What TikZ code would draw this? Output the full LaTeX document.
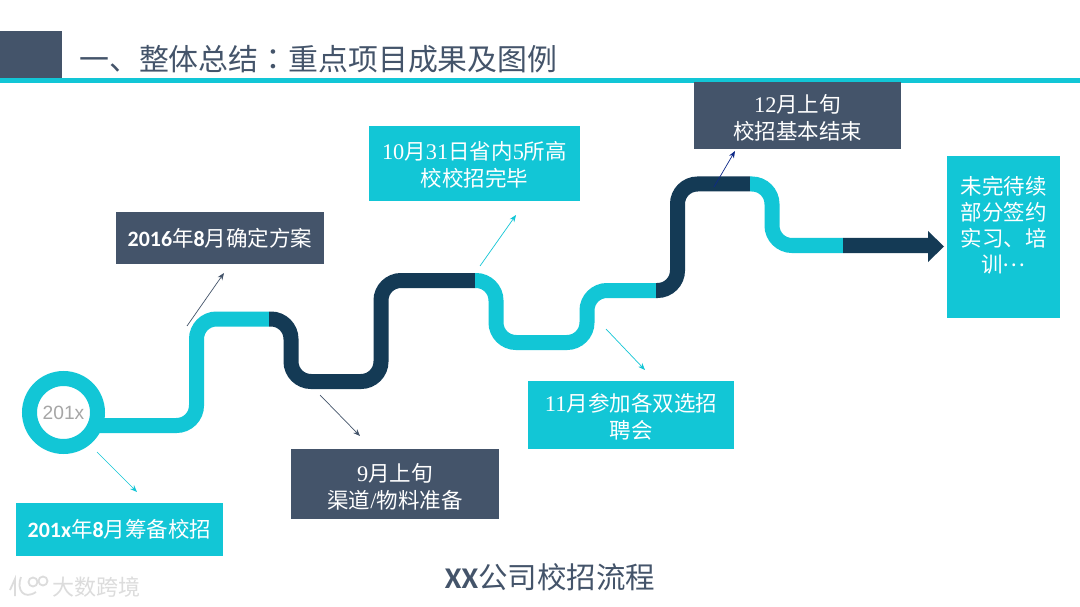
\documentclass[tikz,border=0pt]{standalone}
\usepackage{fontspec}
\usetikzlibrary{arrows.meta}
\setmainfont[Scale=1.04]{Liberation Serif}
\newfontfamily\cj{Noto Sans CJK SC}
\newfontfamily\cjtc{Noto Sans CJK TC}
\newfontfamily\lat{Carlito}[Scale=1.02]
\newfontfamily\ars{Liberation Sans}
\definecolor{teal1}{HTML}{12C6D6}
\definecolor{navy1}{HTML}{143A55}
\definecolor{slate1}{HTML}{44546A}
\definecolor{wm}{HTML}{DCDCDC}
\newcommand{\fsz}[2]{\fontsize{#1pt}{#2pt}\selectfont}
\tikzset{
  road/.style={line width=15pt,rounded corners=20pt,line cap=butt},
  boxtext/.style={text=white,inner sep=0pt,align=center,font=\fsz{21.5}{27}},
  cyanbox/.style={boxtext,fill=teal1},
  slatebox/.style={boxtext,fill=slate1},
  thin arrow/.style={line width=0.7pt,-{Stealth[length=7pt,width=5.5pt]}},
}
\begin{document}
\begin{tikzpicture}[x=1pt,y=-1pt]
\useasboundingbox (0,0) rectangle (1080,607);
\fill[white] (0,0) rectangle (1080,607);
% header
\fill[slate1] (0,31) rectangle (62,78);
\fill[teal1] (0,78) rectangle (1080,83);
\node[anchor=west,inner sep=0pt,text=slate1,font=\cj\fsz{29.9}{30}] (title) at (79,59) {一、整体总结{\cjtc ：}重点项目成果及图例};
% road
\draw[road,teal1] (98,425.5)--(196.5,425.5)--(196.5,319)--(269,319);
\draw[road,navy1] (269,319)--(291,319)--(291,381.5)--(381,381.5)--(381,280.5)--(475,280.5);
\draw[road,teal1] (475,280.5)--(496,280.5)--(496,342.5)--(587,342.5)--(587,290.5)--(656,290.5);
\draw[road,navy1] (656,290.5)--(677.5,290.5)--(677.5,184)--(750,184);
\draw[road,teal1] (750,184)--(772,184)--(772,245.5)--(843,245.5);
\fill[navy1] (843,238)--(928,238)--(928,231)--(944,246.5)--(928,262)--(928,253)--(843,253)--cycle;
\node[circle,draw=teal1,line width=15pt,fill=white,minimum size=68pt,inner sep=0pt,text=black!35,font=\ars\fsz{19.2}{20}] (start) at (63.5,412.5) {201x};
% boxes
\node[cyanbox,minimum width=207pt,minimum height=53pt] (a) at (119.5,529.5) {{\lat\bfseries 201x}{\cj 年}{\lat\bfseries 8}{\cj 月筹备校招}};
\node[slatebox,minimum width=208pt,minimum height=52pt] (b) at (220,238) {{\lat\bfseries 2016}{\cj 年}{\lat\bfseries 8}{\cj 月确定方案}};
\node[slatebox,minimum width=208pt,minimum height=70pt] (c) at (395,484) {};
\node[boxtext] (ct) at ([yshift=-2.5pt]c.center) {9{\cj 月上旬}\\{\cj 渠道}/{\cj 物料准备}};
\node[cyanbox,minimum width=211pt,minimum height=75pt] (d) at (474.5,163.5) {};
\node[boxtext] (dt) at ([yshift=-1.5pt]d.center) {10{\cj 月}31{\cj 日省内}5{\cj 所高}\\{\cj 校校招完毕}};
\node[cyanbox,minimum width=206pt,minimum height=68pt] (e) at (631,415) {};
\node[boxtext] (et) at ([yshift=-2pt]e.center) {11{\cj 月参加各双选招}\\{\cj 聘会}};
\node[slatebox,minimum width=207pt,minimum height=67pt] (f) at (797.5,115.5) {};
\node[boxtext] (ft) at ([yshift=-2.5pt]f.center) {12{\cj 月上旬}\\{\cj 校招基本结束}};
\fill[teal1] (947,156) rectangle (1060,318);
\node[boxtext,anchor=north,text width=113pt,font=\cj\fsz{21.5}{26}] (g) at (1003.5,176.5) {未完待续\\部分签约\\实习、培\\训\raisebox{6.5pt}{…}};
% thin arrows
\coordinate (a0) at (97,452); \coordinate (a1) at (137,492);
\coordinate (b0) at (187,326); \coordinate (b1) at (224,273);
\coordinate (c0) at (320,395); \coordinate (c1) at (360,436);
\coordinate (d0) at (480,266); \coordinate (d1) at (516,215);
\coordinate (e0) at (606,329); \coordinate (e1) at (645,370);
\coordinate (f0) at (714,187); \coordinate (f1) at (735,151);
\draw[thin arrow,teal1] (a0)--(a1);
\draw[thin arrow,slate1] (b0)--(b1);
\draw[thin arrow,slate1] (c0)--(c1);
\draw[thin arrow,teal1] (d0)--(d1);
\draw[thin arrow,teal1] (e0)--(e1);
\draw[thin arrow,navy1!70!blue] (f0)--(f1);
% caption
\node[inner sep=0pt,text=slate1,font=\fsz{29.5}{30}] (cap) at (550,577) {{\lat\bfseries XX}{\cj 公司校招流程}};
% watermark
\node[anchor=west,inner sep=0pt,text=wm,font=\cj\fsz{22}{22}] (wmk) at (52,587) {大数跨境};
\begin{scope}[wm,line width=1.8pt]
\draw (10,590)--(15,579)--(15,596);
\draw (21,577) .. controls (16,590) and (24,600) .. (36,592);
\draw (33,582) circle (4.5pt);
\draw (43,581) circle (4.5pt);
\end{scope}
\end{tikzpicture}
\end{document}
